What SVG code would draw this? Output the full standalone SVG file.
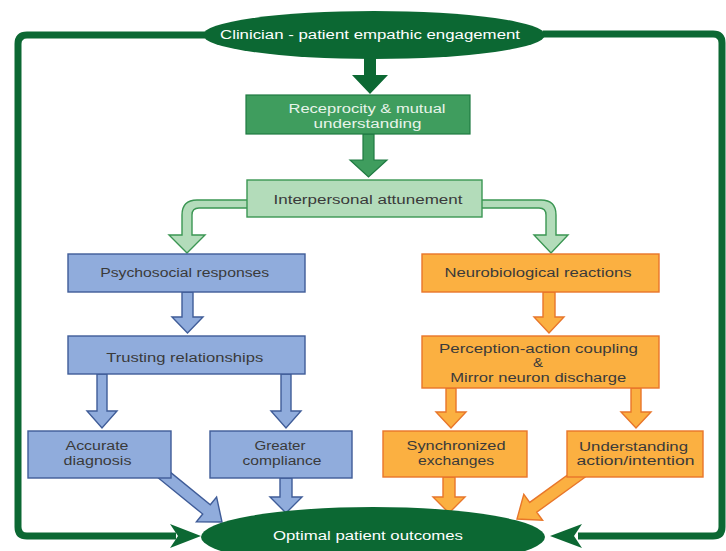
<svg xmlns="http://www.w3.org/2000/svg" width="726" height="551" viewBox="0 0 726 551">
  <style>
    text { font-family: "Liberation Sans", Arial, sans-serif; font-size: 12.5px; text-anchor: middle; fill: #3a3a3a; }
    .light { fill: #ffffff; }
    .soft { fill: #e8f4ea; }
    .loop { fill: none; stroke: #0c6833; stroke-width: 7; stroke-linejoin: round; }
    .dark { fill: #0c6833; }
    .mid { fill: #3f9d5e; stroke: #1f7a42; stroke-width: 1.2; }
    .pale { fill: #b3dcba; stroke: #3b9653; stroke-width: 1.4; }
    .blue { fill: #90acdc; stroke: #3f5c98; stroke-width: 1.4; }
    .orange { fill: #fbb041; stroke: #e8762a; stroke-width: 1.4; }
  </style>

  <g id="connectors">
    <!-- feedback loop around the whole diagram -->
    <path class="loop" d="M205,35 L27,35 Q18,35 18,44 L18,527 Q18,536 27,536 L176,536"/>
    <polygon class="dark" points="201,536 170,524 178,536 170,548"/>
    <path class="loop" d="M543,34 L713,34 Q722,34 722,43 L722,527 Q722,536 713,536 L578,536"/>
    <polygon class="dark" points="550,536 582,524 574,536 582,548"/>

    <!-- green trunk -->
    <path class="dark" d="M364,56 L376,56 L376,75 L388,75 L370,94 L352,75 L364,75 Z"/>
    <path class="mid" d="M363,134 L374,134 L374,160 L387,160 L368.5,177 L350,160 L363,160 Z"/>

    <!-- split from attunement -->
    <path class="pale" d="M248,200 L197,200 Q182,200 182,215 L182,235 L169,235 L187,253 L205,235 L192,235 L192,215 Q192,208 199,208 L248,208 Z"/>
    <path class="pale" d="M481,200 L541,200 Q556,200 556,215 L556,235 L568,235 L551,253 L534,235 L546,235 L546,215 Q546,208 539,208 L481,208 Z"/>

    <!-- psychosocial branch -->
    <path class="blue" d="M182,292 L193,292 L193,317 L203,317 L187.5,333 L172,317 L182,317 Z"/>
    <path class="blue" d="M97,374 L107,374 L107,411 L117,411 L102,428 L87,411 L97,411 Z"/>
    <path class="blue" d="M281,374 L291,374 L291,411 L301,411 L286,428 L271,411 L281,411 Z"/>
    <path class="blue" d="M280,478 L292,478 L292,497 L302,497 L286,513 L270,497 L280,497 Z"/>
    <polygon class="blue" points="163.8,466.9 210.3,504.75 216.6,497 222,522 196.4,521.8 202.7,514.05 156.2,476.2"/>

    <!-- neurobiological branch -->
    <path class="orange" d="M543,292 L555,292 L555,317 L564,317 L549,333 L534,317 L543,317 Z"/>
    <path class="orange" d="M446,388 L456,388 L456,412 L466,412 L451,428 L436,412 L446,412 Z"/>
    <path class="orange" d="M631,388 L641,388 L641,412 L651,412 L636,428 L621,412 L631,412 Z"/>
    <path class="orange" d="M443,477 L455,477 L455,497 L465,497 L449,513 L433,497 L443,497 Z"/>
    <polygon class="orange" points="585.3,476.96 536.7,512.2 542.6,520.3 517,519 523.8,494.3 529.7,502.4 578.3,467.2"/>
  </g>

  <g id="engagement">
    <ellipse class="dark" cx="374" cy="35" rx="171" ry="24"/>
    <text class="light" x="370" y="39" textLength="300" lengthAdjust="spacingAndGlyphs">Clinician - patient empathic engagement</text>
  </g>

  <g id="reciprocity">
    <rect class="mid" x="246" y="95" width="224" height="39"/>
    <text class="soft" x="367" y="113" textLength="157" lengthAdjust="spacingAndGlyphs">Receprocity &amp; mutual</text>
    <text class="soft" x="367.5" y="128" textLength="108" lengthAdjust="spacingAndGlyphs">understanding</text>
  </g>

  <g id="attunement">
    <rect class="pale" x="247" y="180" width="235" height="37"/>
    <text x="368" y="204" textLength="189" lengthAdjust="spacingAndGlyphs">Interpersonal attunement</text>
  </g>

  <g id="psychosocial">
    <rect class="blue" x="68" y="254" width="237" height="38"/>
    <text x="184.7" y="277" textLength="169" lengthAdjust="spacingAndGlyphs">Psychosocial responses</text>
  </g>

  <g id="trusting">
    <rect class="blue" x="68" y="336" width="237" height="38"/>
    <text x="184.7" y="361.5" textLength="157" lengthAdjust="spacingAndGlyphs">Trusting relationships</text>
  </g>

  <g id="diagnosis">
    <rect class="blue" x="28" y="431" width="143" height="47"/>
    <text x="97" y="450" textLength="63" lengthAdjust="spacingAndGlyphs">Accurate</text>
    <text x="97.5" y="465" textLength="68" lengthAdjust="spacingAndGlyphs">diagnosis</text>
  </g>

  <g id="compliance">
    <rect class="blue" x="210" y="431" width="142" height="47"/>
    <text x="280" y="450" textLength="51" lengthAdjust="spacingAndGlyphs">Greater</text>
    <text x="282" y="465" textLength="79" lengthAdjust="spacingAndGlyphs">compliance</text>
  </g>

  <g id="neurobiological">
    <rect class="orange" x="422" y="254" width="237" height="38"/>
    <text x="538" y="277" textLength="187" lengthAdjust="spacingAndGlyphs">Neurobiological reactions</text>
  </g>

  <g id="perception">
    <rect class="orange" x="422" y="336" width="237" height="52"/>
    <text x="538.5" y="353.2" textLength="199" lengthAdjust="spacingAndGlyphs">Perception-action coupling</text>
    <text x="538" y="367.4" textLength="10" lengthAdjust="spacingAndGlyphs">&amp;</text>
    <text x="538.3" y="381.6" textLength="176" lengthAdjust="spacingAndGlyphs">Mirror neuron discharge</text>
  </g>

  <g id="synchronized">
    <rect class="orange" x="383" y="431" width="144" height="46"/>
    <text x="456" y="450" textLength="99" lengthAdjust="spacingAndGlyphs">Synchronized</text>
    <text x="456" y="465" textLength="76" lengthAdjust="spacingAndGlyphs">exchanges</text>
  </g>

  <g id="understanding">
    <rect class="orange" x="567" y="431" width="136" height="46"/>
    <text x="633.5" y="450.5" textLength="109" lengthAdjust="spacingAndGlyphs">Understanding</text>
    <text x="635.5" y="465" textLength="118" lengthAdjust="spacingAndGlyphs">action/intention</text>
  </g>

  <g id="outcomes">
    <ellipse class="dark" cx="373" cy="537" rx="172" ry="30"/>
    <text class="light" x="368" y="540" textLength="190" lengthAdjust="spacingAndGlyphs">Optimal patient outcomes</text>
  </g>
</svg>
